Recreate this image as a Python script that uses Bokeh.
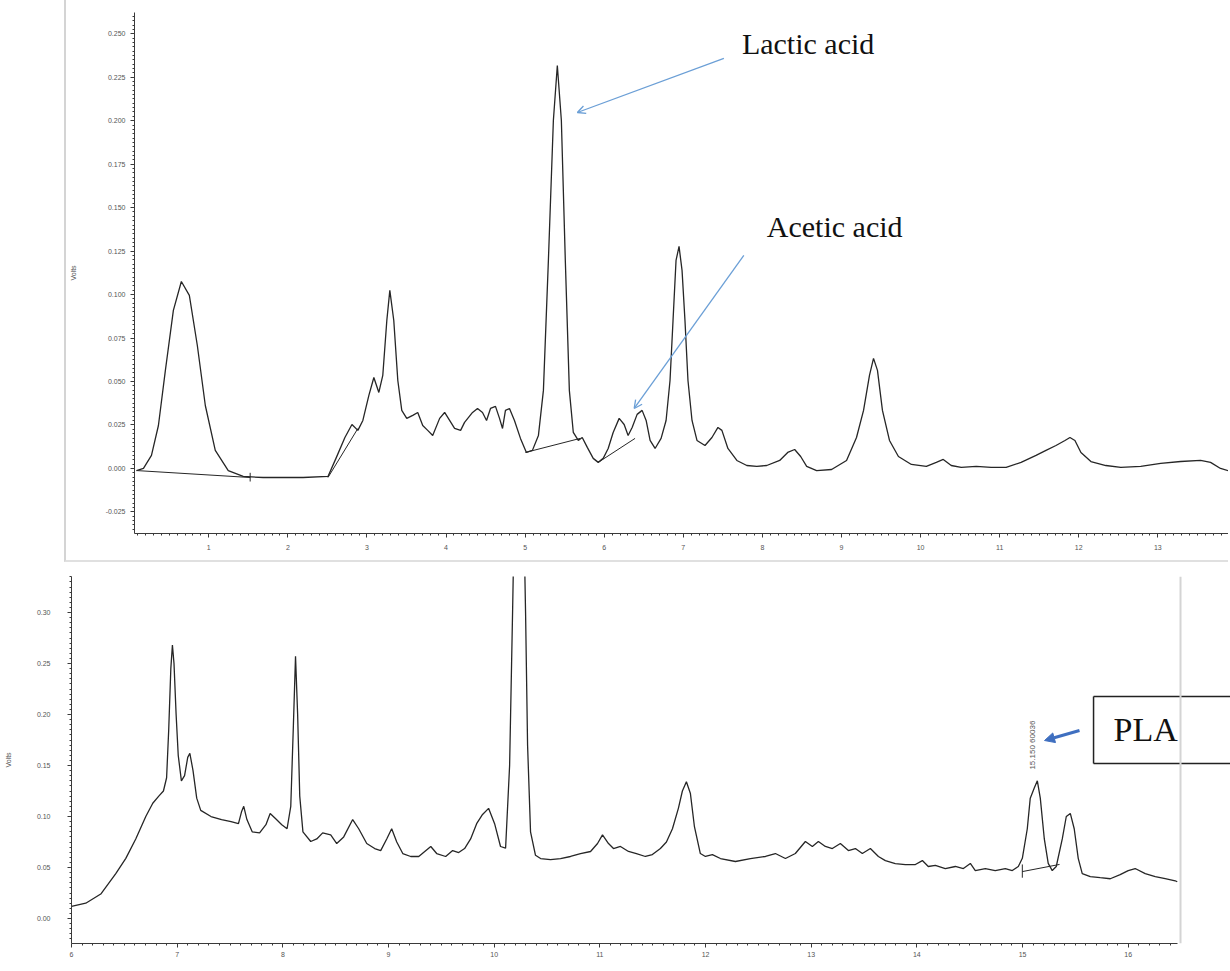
import math
from bokeh.plotting import figure
from bokeh.models import (Range1d, Label, Arrow, OpenHead, NormalHead, Span,
                          FixedTicker, NumeralTickFormatter)
from bokeh.embed import file_html
from bokeh.resources import INLINE

# ---------------- data: upper chromatogram (minutes, volts) ----------------
top_time = [0.086, 0.174, 0.275, 0.363, 0.451, 0.552, 0.653, 0.754, 0.855, 0.956,
            1.082, 1.246, 1.435, 1.687, 2.192, 2.507, 2.608, 2.721, 2.810, 2.885,
            2.948, 3.024, 3.087, 3.150, 3.200, 3.251, 3.289, 3.339, 3.390, 3.440,
            3.503, 3.579, 3.642, 3.705, 3.768, 3.831, 3.919, 3.982, 4.045, 4.108,
            4.184, 4.234, 4.335, 4.398, 4.461, 4.512, 4.562, 4.625, 4.676, 4.714,
            4.751, 4.802, 4.865, 4.941, 5.016, 5.092, 5.168, 5.231, 5.294, 5.357,
            5.407, 5.458, 5.508, 5.559, 5.609, 5.672, 5.722, 5.786, 5.861, 5.924,
            5.987, 6.050, 6.113, 6.189, 6.252, 6.302, 6.353, 6.416, 6.479, 6.530,
            6.580, 6.643, 6.719, 6.782, 6.832, 6.870, 6.908, 6.946, 6.984, 7.021,
            7.059, 7.110, 7.173, 7.274, 7.362, 7.438, 7.488, 7.564, 7.677, 7.803,
            7.929, 8.055, 8.219, 8.320, 8.408, 8.484, 8.560, 8.686, 8.875, 9.064,
            9.190, 9.279, 9.354, 9.405, 9.455, 9.518, 9.607, 9.720, 9.884, 10.073,
            10.199, 10.287, 10.388, 10.514, 10.704, 10.893, 11.082, 11.271, 11.460, 11.586,
            11.712, 11.826, 11.889, 11.952, 12.028, 12.154, 12.343, 12.532, 12.784, 13.036,
            13.289, 13.541, 13.667, 13.793, 13.919]
top_volts = [-0.0012, 0.0, 0.0075, 0.0247, 0.0564, 0.0909, 0.1075, 0.0995, 0.0707, 0.0362,
             0.0104, -0.0012, -0.0046, -0.0052, -0.0052, -0.0046, 0.0058, 0.0178, 0.0253, 0.0219,
             0.0276, 0.0420, 0.0523, 0.0437, 0.0535, 0.0851, 0.1024, 0.0851, 0.0506, 0.0334,
             0.0288, 0.0305, 0.0322, 0.0247, 0.0219, 0.0190, 0.0288, 0.0322, 0.0276, 0.0230,
             0.0219, 0.0265, 0.0322, 0.0345, 0.0322, 0.0276, 0.0345, 0.0357, 0.0288, 0.0230,
             0.0334, 0.0345, 0.0276, 0.0173, 0.0092, 0.0104, 0.0190, 0.0449, 0.1196, 0.2001,
             0.2317, 0.2001, 0.1196, 0.0449, 0.0207, 0.0161, 0.0178, 0.0121, 0.0058, 0.0035,
             0.0058, 0.0115, 0.0207, 0.0288, 0.0253, 0.0190, 0.0236, 0.0311, 0.0334, 0.0276,
             0.0161, 0.0115, 0.0173, 0.0276, 0.0506, 0.0851, 0.1196, 0.1277, 0.1139, 0.0851,
             0.0506, 0.0276, 0.0161, 0.0132, 0.0178, 0.0236, 0.0219, 0.0115, 0.0046, 0.0017,
             0.0012, 0.0017, 0.0046, 0.0092, 0.0109, 0.0069, 0.0012, -0.0012, -0.0006, 0.0046,
             0.0178, 0.0334, 0.0535, 0.0633, 0.0564, 0.0334, 0.0161, 0.0069, 0.0023, 0.0012,
             0.0035, 0.0052, 0.0017, 0.0006, 0.0012, 0.0006, 0.0006, 0.0035, 0.0075, 0.0104,
             0.0132, 0.0161, 0.0178, 0.0161, 0.0092, 0.0040, 0.0017, 0.0006, 0.0012, 0.0029,
             0.0040, 0.0046, 0.0035, 0.0, -0.0017]

# integration baselines drawn by the software (upper)
top_base_x0 = [0.086, 2.507, 5.004, 5.924]
top_base_y0 = [-0.0012, -0.0052, 0.0092, 0.0035]
top_base_x1 = [1.523, 2.885, 5.697, 6.390]
top_base_y1 = [-0.0052, 0.0230, 0.0173, 0.0173]

# ---------------- data: lower chromatogram (minutes, volts) ----------------
bot_time = [6.000, 6.135, 6.277, 6.419, 6.514, 6.608, 6.703, 6.769, 6.826, 6.870,
            6.900, 6.920, 6.940, 6.955, 6.970, 6.990, 7.010, 7.040, 7.070, 7.100,
            7.120, 7.150, 7.185, 7.223, 7.320, 7.420, 7.510, 7.580, 7.610, 7.630,
            7.660, 7.710, 7.780, 7.840, 7.880, 7.930, 7.990, 8.040, 8.075, 8.100,
            8.120, 8.140, 8.160, 8.190, 8.264, 8.321, 8.377, 8.453, 8.510, 8.576,
            8.661, 8.718, 8.794, 8.869, 8.926, 8.983, 9.030, 9.078, 9.135, 9.210,
            9.286, 9.343, 9.400, 9.456, 9.541, 9.607, 9.664, 9.720, 9.777, 9.834,
            9.890, 9.947, 10.004, 10.060, 10.108, 10.146, 10.174, 10.200, 10.236, 10.270,
            10.297, 10.316, 10.344, 10.391, 10.439, 10.533, 10.628, 10.722, 10.817, 10.912,
            10.978, 11.025, 11.082, 11.129, 11.195, 11.271, 11.346, 11.431, 11.497, 11.573,
            11.630, 11.687, 11.743, 11.781, 11.819, 11.857, 11.895, 11.951, 11.999, 12.065,
            12.141, 12.283, 12.425, 12.567, 12.661, 12.756, 12.850, 12.945, 13.011, 13.068,
            13.134, 13.200, 13.276, 13.352, 13.418, 13.484, 13.560, 13.636, 13.702, 13.796,
            13.891, 13.986, 14.052, 14.108, 14.175, 14.269, 14.364, 14.440, 14.506, 14.553,
            14.648, 14.742, 14.837, 14.903, 14.960, 14.998, 15.045, 15.073, 15.111, 15.140,
            15.168, 15.206, 15.243, 15.281, 15.319, 15.376, 15.414, 15.452, 15.489, 15.527,
            15.565, 15.641, 15.735, 15.830, 15.924, 16.000, 16.066, 16.161, 16.256, 16.350,
            16.445, 16.464]
bot_volts = [0.012, 0.015, 0.024, 0.044, 0.059, 0.078, 0.100, 0.113, 0.120, 0.125,
             0.138, 0.185, 0.245, 0.268, 0.250, 0.200, 0.160, 0.135, 0.140, 0.158,
             0.162, 0.145, 0.118, 0.106, 0.100, 0.097, 0.095, 0.093, 0.105, 0.110,
             0.097, 0.085, 0.084, 0.092, 0.103, 0.098, 0.092, 0.088, 0.110, 0.190,
             0.257, 0.200, 0.120, 0.085, 0.0755, 0.078, 0.084, 0.082, 0.0735, 0.080,
             0.097, 0.088, 0.0735, 0.0686, 0.0666, 0.078, 0.088, 0.075, 0.0637, 0.0608,
             0.0608, 0.0657, 0.0706, 0.0637, 0.0608, 0.0666, 0.0647, 0.0686, 0.078, 0.093,
             0.102, 0.108, 0.093, 0.0706, 0.069, 0.15, 0.30, 0.45, 0.55, 0.45,
             0.30, 0.17, 0.085, 0.062, 0.0588, 0.0578, 0.0588, 0.0608, 0.0637, 0.0657,
             0.0735, 0.082, 0.0735, 0.0686, 0.0706, 0.0657, 0.0637, 0.0608, 0.0627, 0.0686,
             0.075, 0.088, 0.108, 0.125, 0.134, 0.1225, 0.090, 0.0637, 0.0608, 0.0627,
             0.0588, 0.0559, 0.0588, 0.0608, 0.0637, 0.0588, 0.0637, 0.0755, 0.0706, 0.0755,
             0.0706, 0.0686, 0.0735, 0.0666, 0.0686, 0.0637, 0.0686, 0.0608, 0.0568, 0.0539,
             0.0529, 0.0529, 0.0568, 0.051, 0.052, 0.049, 0.051, 0.049, 0.054, 0.047,
             0.049, 0.047, 0.049, 0.047, 0.051, 0.059, 0.088, 0.118, 0.128, 0.135,
             0.118, 0.078, 0.054, 0.047, 0.051, 0.078, 0.100, 0.103, 0.088, 0.059,
             0.044, 0.041, 0.040, 0.039, 0.043, 0.047, 0.049, 0.044, 0.041, 0.039,
             0.037, 0.036]

bot_base_x0 = [14.998, 14.998]
bot_base_y0 = [0.046, 0.040]
bot_base_x1 = [15.350, 14.998]
bot_base_y1 = [0.053, 0.053]

top_xticks = [1, 2, 3, 4, 5, 6, 7, 8, 9, 10, 11, 12, 13]
top_yticks = [-0.025, 0.0, 0.025, 0.05, 0.075, 0.1, 0.125, 0.15, 0.175, 0.2, 0.225, 0.25]
bot_xticks = [6, 7, 8, 9, 10, 11, 12, 13, 14, 15, 16]
bot_yticks = [0.0, 0.05, 0.1, 0.15, 0.2, 0.25, 0.3]

INK = "#262626"
AX = "#3a3a3a"
TICKLAB = "#555555"
BLUE_LIGHT = "#6b9fd6"
BLUE_DARK = "#3f6fc0"
SERIF = "Liberation Serif"


def style(p, xticks, xminor, yticks, yminor, yfmt, xstand, ystand):
    p.xaxis.ticker = FixedTicker(ticks=xticks, minor_ticks=xminor)
    p.yaxis.ticker = FixedTicker(ticks=yticks, minor_ticks=yminor)
    p.yaxis.formatter = NumeralTickFormatter(format=yfmt)
    p.xaxis.formatter = NumeralTickFormatter(format="0")
    for ax in (p.xaxis, p.yaxis):
        ax.axis_line_color = AX
        ax.axis_line_width = 1
        ax.major_tick_line_color = AX
        ax.minor_tick_line_color = AX
        ax.major_tick_in = 0
        ax.minor_tick_in = 0
        ax.major_tick_out = 4
        ax.minor_tick_out = 2
        ax.major_label_text_font = "Liberation Sans"
        ax.major_label_text_font_size = "7px"
        ax.major_label_text_color = TICKLAB
        ax.axis_label_text_font = "Liberation Sans"
        ax.axis_label_text_font_size = "7px"
        ax.axis_label_text_font_style = "normal"
        ax.axis_label_text_color = TICKLAB
    p.xaxis.major_label_standoff = xstand
    p.yaxis.major_label_standoff = ystand
    p.xgrid.visible = False
    p.ygrid.visible = False
    p.outline_line_color = None
    p.background_fill_color = "white"
    p.border_fill_color = "white"


# ---------------- upper panel ----------------
p1 = figure(width=1164, height=562, output_backend="svg", toolbar_location=None,
            x_range=Range1d(0.0605, 13.919), y_range=Range1d(-0.0374, 0.2622),
            min_border_left=65, min_border_right=0, min_border_top=12, min_border_bottom=29)
p1.styles = {"margin-left": "64px", "border-left": "2px solid #d4d4d4",
             "border-bottom": "2px solid #e0e0e0"}
style(p1, top_xticks, [round(i * 0.1, 2) for i in range(1, 140)],
      top_yticks, [round(-0.035 + i * 0.0025, 4) for i in range(0, 120)],
      "0.000", 7, 5)
p1.yaxis.axis_label = "Volts"
p1.yaxis.axis_label_standoff = 26

p1.line(top_time, top_volts, line_color=INK, line_width=1.3)
p1.segment(x0=top_base_x0, y0=top_base_y0, x1=top_base_x1, y1=top_base_y1,
           line_color=INK, line_width=1)
p1.segment(x0=[1.523], y0=[-0.0075], x1=[1.523], y1=[-0.0025], line_color=INK, line_width=1)

p1.add_layout(Label(x=7.741, y=0.2444, text="Lactic acid", text_font=SERIF,
                    text_font_size="30px", text_color="#111111", text_baseline="middle"))
p1.add_layout(Label(x=8.056, y=0.1392, text="Acetic acid", text_font=SERIF,
                    text_font_size="30px", text_color="#111111", text_baseline="middle"))

p1.add_layout(Arrow(x_start=7.513, y_start=0.2358, x_end=5.660, y_end=0.2047,
                    line_color=BLUE_LIGHT, line_width=1.3,
                    end=OpenHead(size=8, line_color=BLUE_LIGHT, line_width=1.3)))
p1.add_layout(Arrow(x_start=7.765, y_start=0.1225, x_end=6.379, y_end=0.0345,
                    line_color=BLUE_LIGHT, line_width=1.3,
                    end=OpenHead(size=8, line_color=BLUE_LIGHT, line_width=1.3)))

# ---------------- lower panel ----------------
p2 = figure(width=1230, height=407, output_backend="svg", toolbar_location=None,
            x_range=Range1d(6.0, 16.968), y_range=Range1d(-0.0245, 0.3353),
            min_border_left=71, min_border_right=0, min_border_top=14, min_border_bottom=26)
style(p2, bot_xticks, [round(6 + i * 0.1, 2) for i in range(1, 105)],
      bot_yticks, [round(-0.02 + i * 0.005, 3) for i in range(0, 72)],
      "0.00", 4, 17)
p2.xaxis.bounds = (6.0, 16.464)
p2.yaxis.axis_label = "Volts"
p2.yaxis.axis_label_standoff = 22

p2.line(bot_time, bot_volts, line_color=INK, line_width=1.3)
p2.segment(x0=bot_base_x0, y0=bot_base_y0, x1=bot_base_x1, y1=bot_base_y1,
           line_color=INK, line_width=1)

p2.add_layout(Span(location=16.495, dimension="height", line_color="#d4d4d4", line_width=2))

p2.add_layout(Label(x=15.095, y=0.146, text="15.150 60036", angle=math.pi / 2,
                    text_font="Liberation Sans", text_font_size="8px",
                    text_color="#555555", text_align="left", text_baseline="middle"))

# PLA box (right side runs off the image)
p2.segment(x0=[15.672, 15.672, 15.672], y0=[0.2176, 0.152, 0.152],
           x1=[17.0, 17.0, 15.672], y1=[0.2176, 0.152, 0.2176],
           line_color="#222222", line_width=1.5)
p2.add_layout(Label(x=15.861, y=0.1853, text="PLA", text_font=SERIF,
                    text_font_size="34px", text_color="#111111", text_baseline="middle"))
p2.add_layout(Arrow(x_start=15.539, y_start=0.1843, x_end=15.208, y_end=0.1745,
                    line_color=BLUE_DARK, line_width=3,
                    end=NormalHead(size=10, fill_color=BLUE_DARK, line_color=BLUE_DARK)))

open("out.html", "w").write(file_html([p1, p2], INLINE))
